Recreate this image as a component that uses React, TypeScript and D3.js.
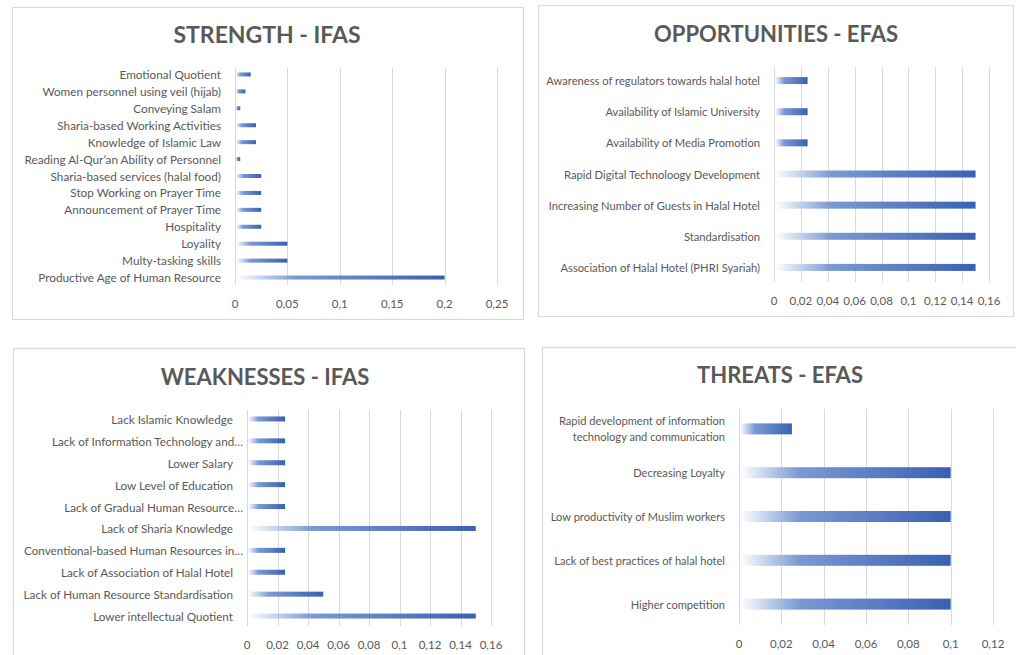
import React from 'react';
import * as d3 from 'd3';

// ---- data ----
const strengthFactors = [
  'Emotional Quotient',
  'Women personnel using veil (hijab)',
  'Conveying Salam',
  'Sharia-based Working Activities',
  'Knowledge of Islamic Law',
  'Reading Al-Qur\u2019an Ability of Personnel',
  'Sharia-based services (halal food)',
  'Stop Working on Prayer Time',
  'Announcement of Prayer Time',
  'Hospitality',
  'Loyality',
  'Multy-tasking skills',
  'Productive Age of Human Resource',
];
const strengthScores = [0.015, 0.01, 0.005, 0.02, 0.02, 0.005, 0.025, 0.025, 0.025, 0.025, 0.05, 0.05, 0.2];
const strengthTicks = [0, 0.05, 0.1, 0.15, 0.2, 0.25];

const opportunityFactors = [
  'Awareness of regulators towards halal hotel',
  'Availability of Islamic University',
  'Availability of Media Promotion',
  'Rapid Digital Technoloogy Development',
  'Increasing Number of Guests in Halal Hotel',
  'Standardisation',
  'Association of Halal Hotel (PHRI Syariah)',
];
const opportunityScores = [0.025, 0.025, 0.025, 0.15, 0.15, 0.15, 0.15];
const opportunityTicks = [0, 0.02, 0.04, 0.06, 0.08, 0.1, 0.12, 0.14, 0.16];

const weaknessFactors = [
  'Lack Islamic Knowledge',
  'Lack of Information Technology and\u2026',
  'Lower Salary',
  'Low Level of Education',
  'Lack of Gradual Human Resource\u2026',
  'Lack of Sharia Knowledge',
  'Conventional-based Human Resources in\u2026',
  'Lack of Association of Halal Hotel',
  'Lack of Human Resource Standardisation',
  'Lower intellectual Quotient',
];
const weaknessScores = [0.025, 0.025, 0.025, 0.025, 0.025, 0.15, 0.025, 0.025, 0.05, 0.15];
const weaknessTicks = [0, 0.02, 0.04, 0.06, 0.08, 0.1, 0.12, 0.14, 0.16];

const threatFactors = [
  'Rapid development of information\ntechnology and communication',
  'Decreasing Loyalty',
  'Low productivity of Muslim workers',
  'Lack of best practices of halal hotel',
  'Higher competition',
];
const threatScores = [0.025, 0.1, 0.1, 0.1, 0.1];
const threatTicks = [0, 0.02, 0.04, 0.06, 0.08, 0.1, 0.12];

const TEXT = '#595959';
const GRID = '#d9d9d9';
const FONT = 'Lato, "Open Sans", sans-serif';

const fmt = (d: number) => String(+d.toFixed(2)).replace('.', ',');

type Box = { x: number; y: number; w: number; h: number };
type Plot = { left: number; right: number; top: number; bottom: number };

type PanelProps = {
  id: string;
  title: string;
  factors: string[];
  scores: number[];
  ticks: number[];
  box: Box;
  plot: Plot;
  titleX: number;
  titleY: number;
  titleSize?: number;
  barSize: number;
  labelSize: number;
};

function BarPanel({ id, title, factors, scores, ticks, box, plot, titleX, titleY, titleSize = 22, barSize, labelSize }: PanelProps) {
  const x = d3.scaleLinear().domain([0, ticks[ticks.length - 1]]).range([plot.left, plot.right]);
  const y = d3.scaleBand<string>().domain(factors).range([plot.top, plot.bottom]);
  const half = y.bandwidth() / 2;

  return (
    <g>
      <rect x={box.x + 0.5} y={box.y + 0.5} width={box.w} height={box.h} fill="#fff" stroke={GRID} strokeWidth={1.2} />
      <text x={titleX} y={titleY} textAnchor="middle" dominantBaseline="central"
        fontFamily={FONT} fontWeight={700} fontSize={titleSize} fill={TEXT}>{title}</text>

      {/* gridlines */}
      {ticks.map(t => (
        <line key={t} x1={Math.round(x(t)) + 0.5} x2={Math.round(x(t)) + 0.5} y1={plot.top + 2} y2={plot.bottom - 1}
          stroke={GRID} strokeWidth={1} />
      ))}

      {/* tick labels */}
      {ticks.map(t => (
        <text key={'t' + t} x={x(t)} y={plot.bottom + 17} textAnchor="middle" dominantBaseline="central"
          fontFamily={FONT} fontSize={11.5} fill={TEXT}>{fmt(t)}</text>
      ))}

      {/* bars */}
      {factors.map((f, i) => (
        <rect key={f} x={x(0) + 1} y={(y(f) ?? 0) + half - barSize / 2} width={x(scores[i]) - x(0) - 1} height={barSize}
          fill={`url(#${id})`} />
      ))}

      {/* category labels */}
      {factors.map(f => {
        const lines = f.split('\n');
        const cy = (y(f) ?? 0) + half;
        const lh = 16;
        const dx = f.endsWith('\u2026') ? 10 : 0;
        return (
          <text key={'l' + f} textAnchor="end" fontFamily={FONT} fontSize={labelSize} fill={TEXT}>
            {lines.map((ln, j) => (
              <tspan key={j} x={x(0) - 14 + dx} y={cy + (j - (lines.length - 1) / 2) * lh} dominantBaseline="central">{ln}</tspan>
            ))}
          </text>
        );
      })}
    </g>
  );
}

export default function App() {
  const ids = ['gS', 'gO', 'gW', 'gT'];
  return (
    <div style={{ position: 'absolute', left: 0, top: 0 }}>
      <svg width={1016} height={655} style={{ display: 'block', background: '#fff' }}>
        <defs>
          {ids.map(id => (
            <linearGradient key={id} id={id} x1="0" x2="1" y1="0" y2="0">
              <stop offset="0" stopColor="#ffffff" />
              <stop offset="0.28" stopColor="#7b9ad3" />
              <stop offset="1" stopColor="#3960b3" />
            </linearGradient>
          ))}
        </defs>

        <BarPanel id="gS" title="STRENGTH - IFAS" factors={strengthFactors} scores={strengthScores} ticks={strengthTicks}
          box={{ x: 12, y: 7, w: 511, h: 312 }} plot={{ left: 235, right: 497, top: 66, bottom: 286 }}
          titleX={267} titleY={34} titleSize={23} barSize={4} labelSize={11.75} />

        <BarPanel id="gO" title="OPPORTUNITIES - EFAS" factors={opportunityFactors} scores={opportunityScores} ticks={opportunityTicks}
          box={{ x: 538, y: 5, w: 475, h: 311 }} plot={{ left: 774, right: 989, top: 65, bottom: 283 }}
          titleX={776} titleY={33} barSize={7} labelSize={11.2} />

        <BarPanel id="gW" title="WEAKNESSES - IFAS" factors={weaknessFactors} scores={weaknessScores} ticks={weaknessTicks}
          box={{ x: 13, y: 348, w: 511, h: 330 }} plot={{ left: 247, right: 491, top: 408, bottom: 627 }}
          titleX={265} titleY={376} barSize={5} labelSize={11.7} />

        <BarPanel id="gT" title="THREATS - EFAS" factors={threatFactors} scores={threatScores} ticks={threatTicks}
          box={{ x: 542, y: 347, w: 500, h: 330 }} plot={{ left: 739, right: 993, top: 407, bottom: 626 }}
          titleX={780} titleY={374} barSize={11} labelSize={11.1} />
      </svg>
    </div>
  );
}
